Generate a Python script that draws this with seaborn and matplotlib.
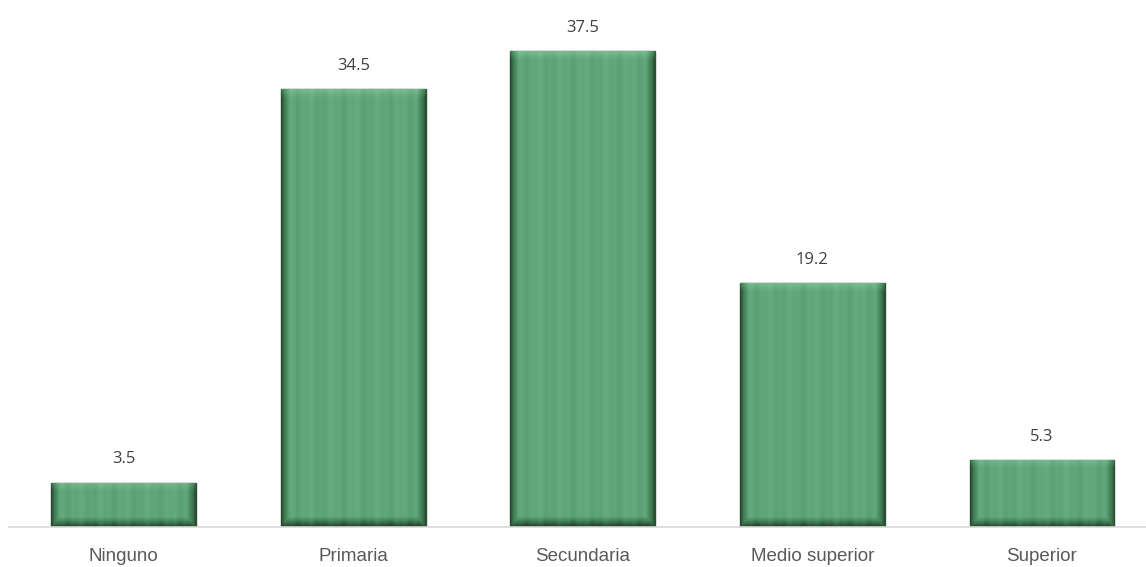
import numpy as np
import pandas as pd
import seaborn as sns
import matplotlib.pyplot as plt
from matplotlib.colors import LinearSegmentedColormap

# Datos: nivel de escolaridad (%)
niveles = ["Ninguno", "Primaria", "Secundaria", "Medio superior", "Superior"]
porcentajes = [3.5, 34.5, 37.5, 19.2, 5.3]
etiquetas = ["3.5", "34.5", "37.5", "19.2", "5.3"]

df = pd.DataFrame({"nivel": niveles, "porcentaje": porcentajes})

sns.set_style("white")
plt.rcParams["font.family"] = ["Liberation Sans", "DejaVu Sans"]

fig = plt.figure(figsize=(11.46, 5.67), dpi=100)
ax = fig.add_axes([9 / 1146, 40 / 567, 1137 / 1146, 507.6 / 567])

sns.barplot(data=df, x="nivel", y="porcentaje", color="#4f9a6b",
            width=0.63, edgecolor="#2f4f33", linewidth=1.0, ax=ax)

# efecto de bisel dentro de cada barra (oscuro en los bordes, verde claro al centro)
cmap = LinearSegmentedColormap.from_list(
    "verde", ["#24402a", "#3f7a50", "#5aa275", "#7cbb92"])
xs = np.linspace(0, 1, 300)
borde_x = np.clip(np.minimum(xs, 1 - xs) / 0.06, 0, 1)
ondas = 0.04 * np.sin(xs * 40) + 0.03 * np.sin(xs * 97)
for p in ax.patches:
    x0, y0 = p.get_x(), p.get_y()
    w, h = p.get_width(), p.get_height()
    ys = np.linspace(0, 1, 300)[:, None]
    # bisel vertical de unos 10 px
    alto_px = h * 12.69
    borde_y = np.clip(ys * alto_px / 10, 0, 1)
    arriba = np.clip((1 - ys) * alto_px / 8, 0, 1)
    grad = 0.72 * np.minimum(borde_x[None, :], borde_y) + ondas[None, :]
    grad = grad + 0.25 * (1 - arriba)
    grad = np.clip(grad, 0, 1)
    im = ax.imshow(grad, cmap=cmap, vmin=0, vmax=1, aspect="auto",
                   extent=[x0, x0 + w, y0, y0 + h], origin="lower",
                   interpolation="bilinear", zorder=p.get_zorder() + 0.1)
    im.set_clip_path(p)

ax.set_xlim(-0.5, 4.454)
ax.set_ylim(0, 40)

for i, (v, t) in enumerate(zip(porcentajes, etiquetas)):
    ax.text(i, v + 1.2, t, ha="center", va="bottom", fontsize=12,
            color="#404040", family=["Open Sans", "DejaVu Sans"])

ax.set_xlabel("")
ax.set_ylabel("")
ax.set_yticks([])
ax.tick_params(axis="x", length=0, pad=15, labelsize=13.5, labelcolor="#595959")
for s in ["top", "right", "left"]:
    ax.spines[s].set_visible(False)
ax.spines["bottom"].set_color("#d9d9d9")
ax.spines["bottom"].set_linewidth(1.2)

fig.savefig("out.png", dpi=100)
